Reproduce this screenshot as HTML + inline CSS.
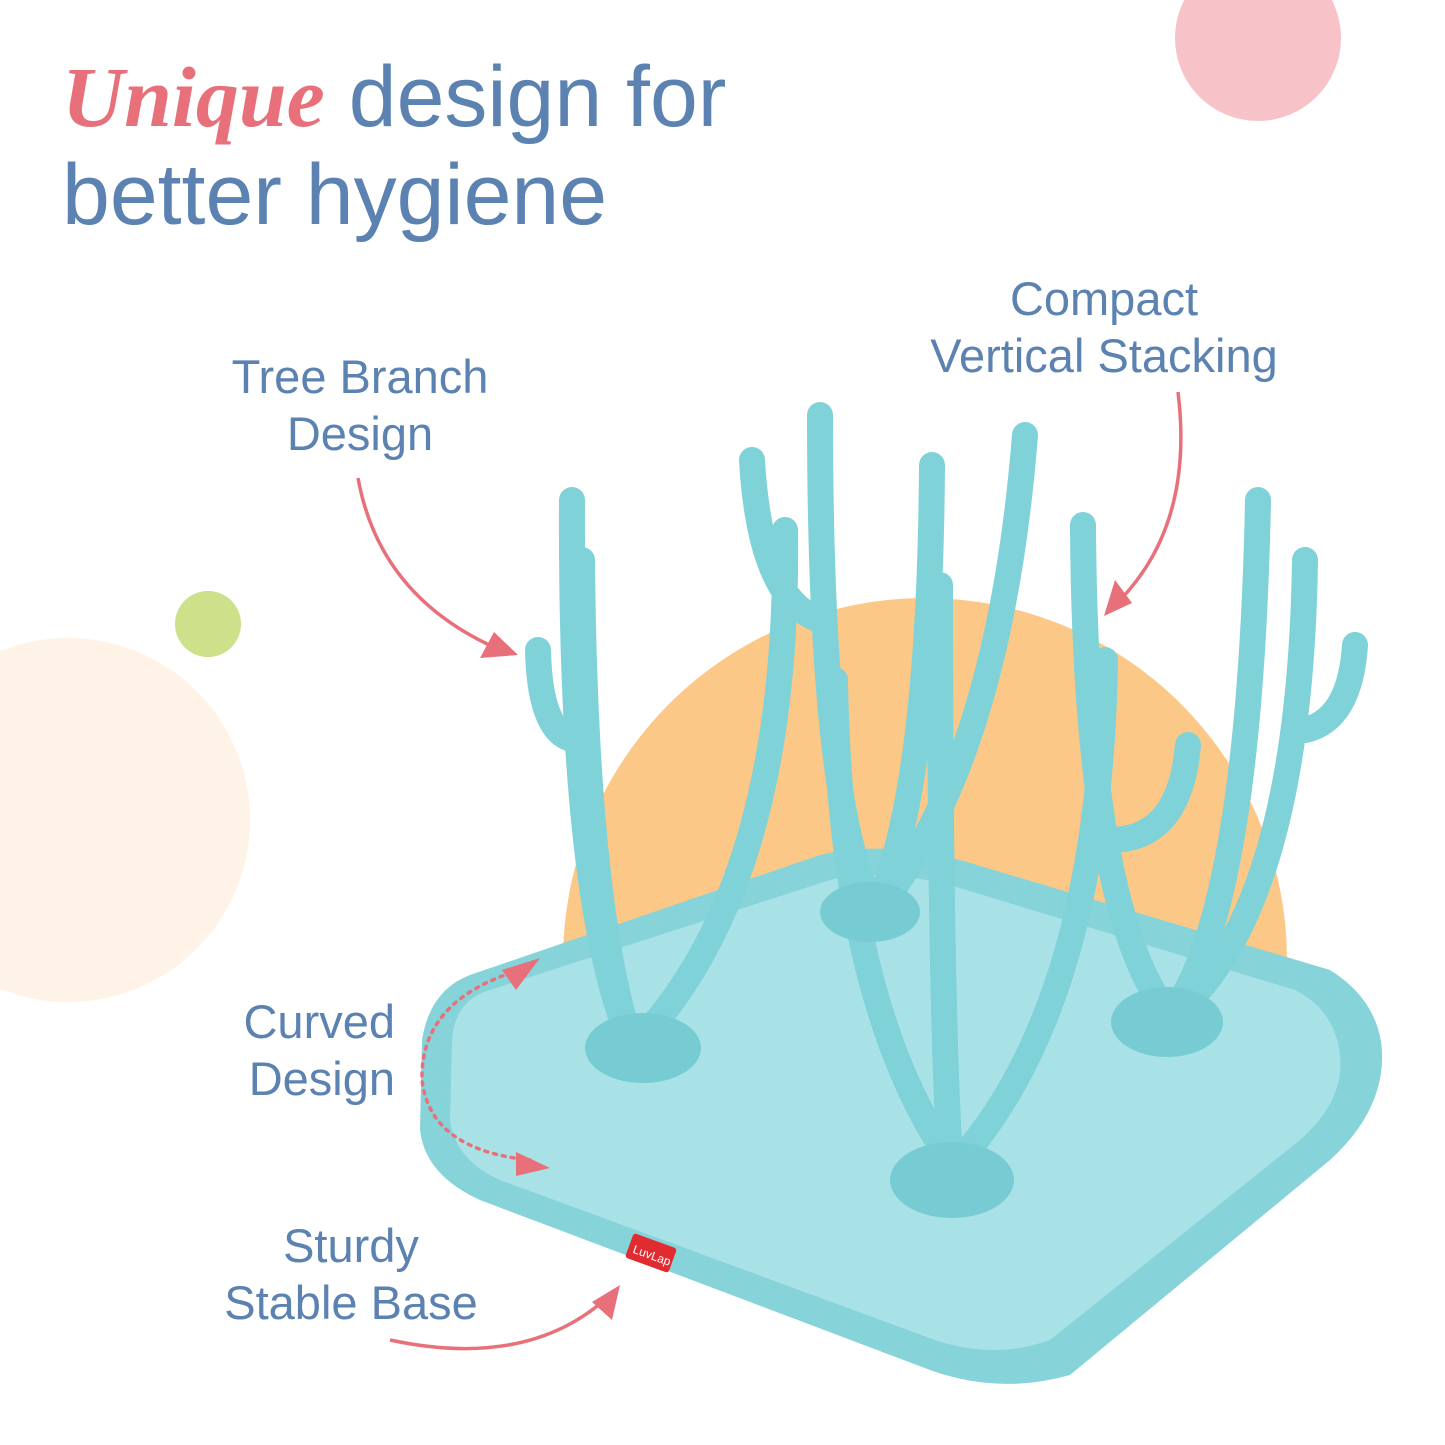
<!DOCTYPE html>
<html><head><meta charset="utf-8"><style>
html,body{margin:0;padding:0;background:#fff}
#c{position:relative;width:1445px;height:1445px;overflow:hidden;background:#fff;font-family:"Liberation Sans",sans-serif}
.t{position:absolute;color:#5b82b1;white-space:nowrap}
</style></head><body><div id="c">
<svg width="1445" height="1445" style="position:absolute;left:0;top:0">
<circle cx="1258" cy="38" r="83" fill="#f7c3c8"/>
<circle cx="208" cy="624" r="33" fill="#cde08a"/>
<circle cx="68" cy="820" r="182" fill="#fef3e6"/>
<path d="M563 960 A362 362 0 0 1 1287 960 Z" fill="#fcc887"/>
<path d="M470 975 Q430 990 422 1040 L420 1130 Q425 1175 480 1200 L930 1370 Q1000 1395 1070 1375 L1330 1160 Q1385 1110 1382 1050 Q1378 1000 1330 970 L960 860 Q880 840 820 855 Z" fill="#86d3d9"/>
<path d="M490 990 Q455 1000 452 1040 L450 1120 Q455 1160 500 1180 L935 1340 Q995 1360 1050 1340 L1300 1140 Q1345 1100 1340 1055 Q1335 1010 1295 990 L950 885 Q880 868 830 880 Z" fill="#a9e2e6"/>
<g stroke="#7fd2d8" stroke-width="26" stroke-linecap="round" fill="none">
<path d="M870 900 Q820 800 820 415"/><path d="M880 900 Q930 780 932 465"/>
<path d="M885 900 Q1000 750 1025 435"/><path d="M820 620 Q760 600 752 460"/>
<path d="M630 1040 Q570 900 572 500"/><path d="M630 1040 Q585 900 582 560"/>
<path d="M640 1040 Q790 880 785 530"/><path d="M580 740 Q540 740 538 650"/>
<path d="M1165 1010 Q1085 900 1083 525"/><path d="M1175 1010 Q1250 900 1258 500"/>
<path d="M1180 1010 Q1300 900 1305 560"/><path d="M1305 730 Q1350 720 1355 645"/>
<path d="M950 1160 Q840 1000 835 680"/><path d="M950 1160 Q940 1000 940 585"/>
<path d="M960 1160 Q1100 1000 1105 660"/><path d="M1110 840 Q1180 840 1188 745"/>
</g>
<g fill="#76ccd2">
<ellipse cx="870" cy="912" rx="50" ry="30"/>
<ellipse cx="643" cy="1048" rx="58" ry="35"/>
<ellipse cx="1167" cy="1022" rx="56" ry="35"/>
<ellipse cx="952" cy="1180" rx="62" ry="38"/>
</g>
<rect x="628" y="1240" width="46" height="26" rx="3" fill="#e02b30" transform="rotate(20 651 1253)"/>
<text x="633" y="1259" font-size="12" fill="#fff" font-family="Liberation Sans" transform="rotate(20 651 1253)">LuvLap</text>
<g stroke="#e8707a" stroke-width="3.5" fill="none">
<path d="M358 478 Q380 600 505 652"/>
<path d="M1178 392 Q1195 530 1112 608"/>
<path d="M390 1340 Q530 1370 610 1295"/>
<path d="M520 970 Q420 1000 422 1080 Q430 1150 530 1160" stroke-dasharray="3 6" stroke-linecap="round"/>
</g>
<g fill="#e8707a">
<path d="M518 655 L480 658 L494 632 Z"/>
<path d="M1104 616 L1115 580 L1132 603 Z"/>
<path d="M620 1285 L612 1320 L592 1302 Z"/>
<path d="M540 958 L502 970 L516 990 Z"/>
<path d="M550 1168 L516 1152 L516 1176 Z"/>
</g>
</svg>
<div class="t" style="left:62px;top:48px;font-size:86px;line-height:98px"><span style="color:#e8707a;font-family:'Liberation Serif',serif;font-style:italic;font-weight:bold">Unique</span> design for</div>
<div class="t" style="left:62px;top:146px;font-size:86px;line-height:98px">better hygiene</div>
<div class="t" style="left:180px;width:360px;text-align:center;top:348px;font-size:47px;line-height:57px">Tree Branch<br>Design</div>
<div class="t" style="left:884px;width:440px;text-align:center;top:270px;font-size:47px;line-height:57px">Compact<br>Vertical Stacking</div>
<div class="t" style="left:175px;width:220px;text-align:right;top:993px;font-size:47px;line-height:57px">Curved<br>Design</div>
<div class="t" style="left:170px;width:362px;text-align:center;top:1217px;font-size:47px;line-height:57px">Sturdy<br>Stable Base</div>
</div></body></html>
